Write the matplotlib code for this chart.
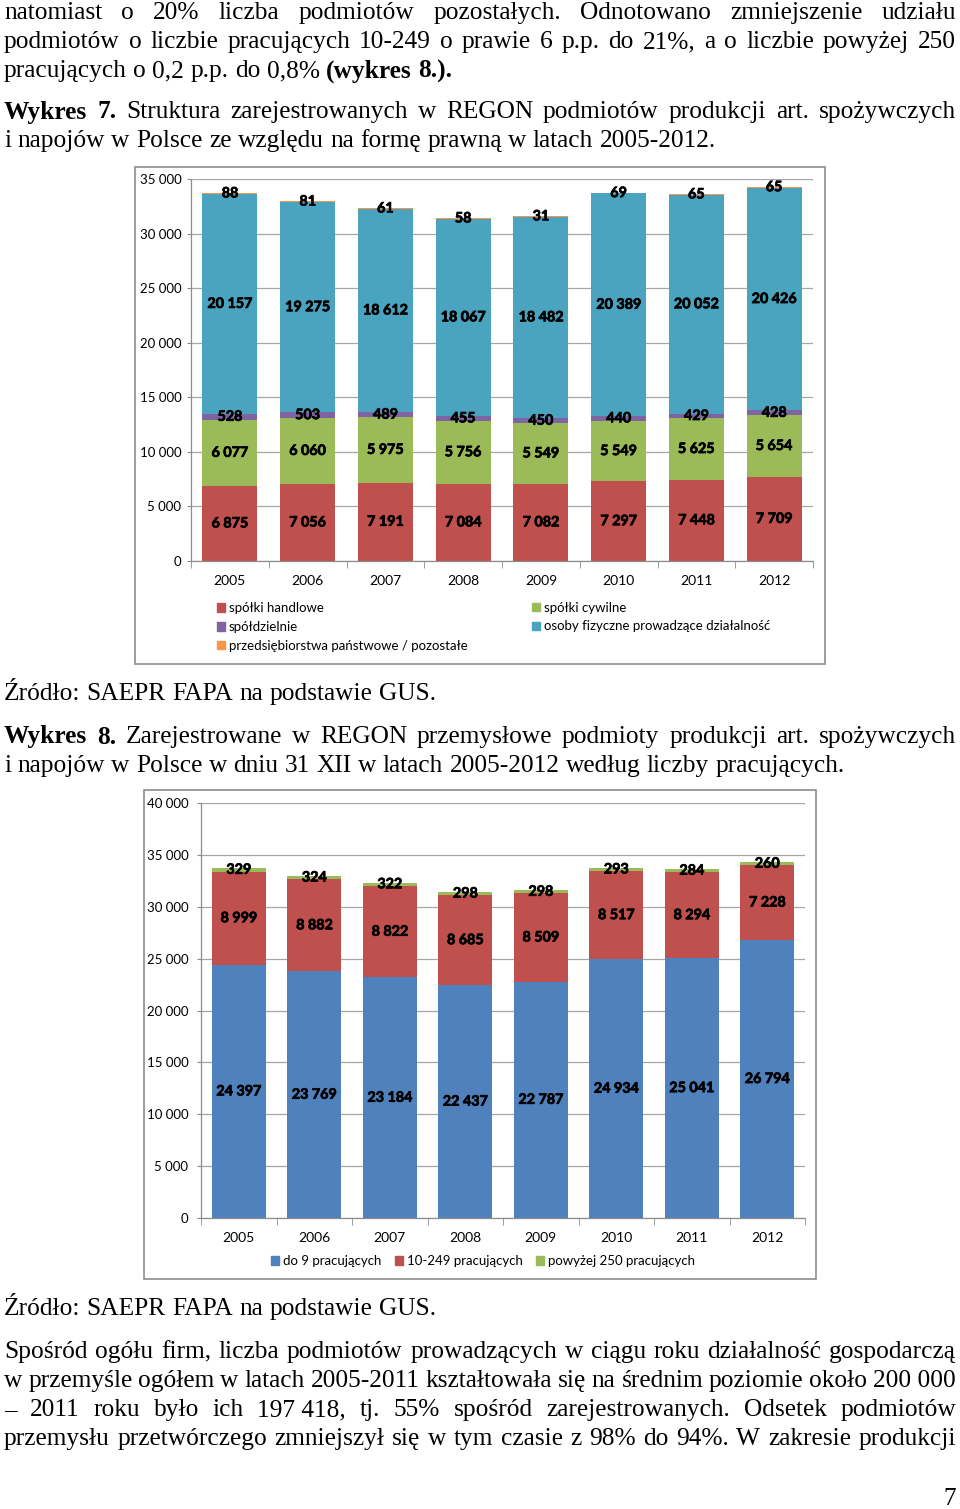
import numpy as np
import matplotlib
matplotlib.use("Agg")
import matplotlib.pyplot as plt
import matplotlib.patheffects as pe
from matplotlib.patches import Rectangle, Patch

# ---------------- data ----------------
years = ["2005", "2006", "2007", "2008", "2009", "2010", "2011", "2012"]

# Wykres 7 - forma prawna
spolki_handlowe = [6875, 7056, 7191, 7084, 7082, 7297, 7448, 7709]
spolki_cywilne = [6077, 6060, 5975, 5756, 5549, 5549, 5625, 5654]
spoldzielnie = [528, 503, 489, 455, 450, 440, 429, 428]
osoby_fizyczne = [20157, 19275, 18612, 18067, 18482, 20389, 20052, 20426]
przeds_panstwowe = [88, 81, 61, 58, 31, 69, 65, 65]

# Wykres 8 - liczba pracujacych
do_9 = [24397, 23769, 23184, 22437, 22787, 24934, 25041, 26794]
od_10_249 = [8999, 8882, 8822, 8685, 8509, 8517, 8294, 7228]
powyzej_250 = [329, 324, 322, 298, 298, 293, 284, 260]

# ---------------- setup ----------------
W, H = 960, 1509
fig = plt.figure(figsize=(W / 100, H / 100), dpi=100)
renderer = fig.canvas.get_renderer()

CH = ["Lato", "DejaVu Sans"]
SERIF = ["Liberation Serif", "DejaVu Serif"]
FS = 18.3


def fx(px):
    return px / W


def fy(py):
    return 1 - py / H


def fmt(v):
    return f"{v:,}".replace(",", " ")


# ---------------- page text ----------------
def text_line(y, s, justify, x0=4, x1=956, size=FS):
    words = s.split(" ")
    texts = []
    for w in words:
        bold = w.startswith("§")
        w = w.replace("§", "")
        t = fig.text(0, fy(y), w, fontsize=size, family=SERIF,
                     weight="bold" if bold else "normal",
                     va="center", ha="left")
        texts.append(t)
    widths = [t.get_window_extent(renderer).width for t in texts]
    probe1 = fig.text(0, 0, "x x", fontsize=size, family=SERIF)
    probe2 = fig.text(0, 0, "xx", fontsize=size, family=SERIF)
    sp = probe1.get_window_extent(renderer).width - probe2.get_window_extent(renderer).width
    probe1.remove()
    probe2.remove()
    if justify and len(texts) > 1:
        gap = max((x1 - x0 - sum(widths)) / (len(texts) - 1), sp * 0.5)
    else:
        gap = sp
    x = x0
    for t, w in zip(texts, widths):
        t.set_x(fx(x))
        x += w + gap


page_lines = [
    (13, "natomiast o 20% liczba podmiotów pozostałych. Odnotowano zmniejszenie udziału", True),
    (42, "podmiotów o liczbie pracujących 10-249 o prawie 6 p.p. do 21%, a o liczbie powyżej 250", True),
    (71, "pracujących o 0,2 p.p. do 0,8% §(wykres §8.).", False),
    (112, "§Wykres §7. Struktura zarejestrowanych w REGON podmiotów produkcji art. spożywczych", True),
    (141, "i napojów w Polsce ze względu na formę prawną w latach 2005-2012.", False),
    (694, "Źródło: SAEPR FAPA na podstawie GUS.", False),
    (737, "§Wykres §8. Zarejestrowane w REGON przemysłowe podmioty produkcji art. spożywczych", True),
    (766, "i napojów w Polsce w dniu 31 XII w latach 2005-2012 według liczby pracujących.", False),
    (1309, "Źródło: SAEPR FAPA na podstawie GUS.", False),
    (1352, "Spośród ogółu firm, liczba podmiotów prowadzących w ciągu roku działalność gospodarczą", True),
    (1381, "w przemyśle ogółem w latach 2005-2011 kształtowała się na średnim poziomie około 200\u00a0000", True),
    (1410, "– 2011 roku było ich 197\u00a0418, tj. 55% spośród zarejestrowanych. Odsetek podmiotów", True),
    (1439, "przemysłu przetwórczego zmniejszył się w tym czasie z 98% do 94%. W zakresie produkcji", True),
]
for y, s, j in page_lines:
    text_line(y, s, j)

fig.text(fx(956), fy(1499), "7", fontsize=FS, family=SERIF, ha="right", va="center")

# ---------------- chart frames ----------------
for (l, t, r, b) in [(135, 167, 825, 664), (144, 790, 816, 1279)]:
    fig.patches.append(Rectangle((fx(l), fy(b)), fx(r) - fx(l), (b - t) / H,
                                 transform=fig.transFigure, fill=False,
                                 edgecolor="#8c8c8c", lw=1.2, zorder=0))

GRID = "#a6a6a6"
AX = "#8c8c8c"
BOLD = [pe.withStroke(linewidth=0.55, foreground="black")]


def style_axes(ax, ymax, pad):
    ax.set_xlim(-0.5, 7.5)
    ax.set_ylim(0, ymax)
    ticks = list(range(0, ymax + 1, 5000))
    ax.set_yticks(ticks)
    ax.set_yticklabels([fmt(v) for v in ticks], family=CH, fontsize=9.5)
    ax.yaxis.grid(True, color=GRID, lw=0.9)
    ax.set_axisbelow(True)
    for s in ["top", "right"]:
        ax.spines[s].set_visible(False)
    for s in ["left", "bottom"]:
        ax.spines[s].set_color(AX)
        ax.spines[s].set_linewidth(0.9)
    ax.tick_params(axis="y", length=3, color=AX, pad=pad)
    ax.set_xticks(range(len(years)))
    ax.set_xticklabels(years, family=CH, fontsize=10)
    ax.tick_params(axis="x", which="major", length=0, pad=10)
    ax.set_xticks(np.arange(-0.5, len(years), 1), minor=True)
    ax.tick_params(axis="x", which="minor", length=5, color=AX)


def stack(ax, series, colors, width):
    x = np.arange(len(years))
    bottom = np.zeros(len(years))
    for vals, c in zip(series, colors):
        vals = np.array(vals, dtype=float)
        ax.bar(x, vals, width, bottom=bottom, color=c, zorder=2)
        for xi, b, v in zip(x, bottom, vals):
            ax.text(xi, b + v / 2, fmt(int(v)), ha="center", va="center",
                    family=CH, fontsize=10.3, weight="bold", color="black",
                    zorder=3, path_effects=BOLD)
        bottom += vals


# ---------------- Wykres 7 ----------------
C_RED, C_GREEN, C_PURPLE, C_TEAL, C_ORANGE, C_BLUE = (
    "#C0504D", "#9BBB59", "#8064A2", "#4AA3BF", "#F79646", "#4F81BD")

ax1 = fig.add_axes([fx(191), fy(561), fx(813) - fx(191), (561 - 179) / H])
style_axes(ax1, 35000, 4)
stack(ax1, [spolki_handlowe, spolki_cywilne, spoldzielnie, osoby_fizyczne, przeds_panstwowe],
      [C_RED, C_GREEN, C_PURPLE, C_TEAL, C_ORANGE], 0.71)

lp = dict(frameon=False, borderaxespad=0, borderpad=0, handlelength=0.6,
          handleheight=0.6, handletextpad=0.3, labelspacing=0.52,
          prop=dict(family=CH, size=9.5))
fig.legend([Patch(color=C_RED), Patch(color=C_PURPLE), Patch(color=C_ORANGE)],
           ["spółki handlowe", "spółdzielnie", "przedsiębiorstwa państwowe / pozostałe"],
           loc="center left", bbox_to_anchor=(fx(217), fy(627)), **lp)
fig.legend([Patch(color=C_GREEN), Patch(color=C_TEAL)],
           ["spółki cywilne", "osoby fizyczne prowadzące działalność"],
           loc="center left", bbox_to_anchor=(fx(532), fy(617)), **lp)

# ---------------- Wykres 8 ----------------
ax2 = fig.add_axes([fx(201), fy(1218), fx(805) - fx(201), (1218 - 803) / H])
style_axes(ax2, 40000, 6)
stack(ax2, [do_9, od_10_249, powyzej_250], [C_BLUE, C_RED, C_GREEN], 0.715)

fig.legend([Patch(color=C_BLUE), Patch(color=C_RED), Patch(color=C_GREEN)],
           ["do 9 pracujących", "10-249 pracujących", "powyżej 250 pracujących"],
           loc="center", bbox_to_anchor=(fx(483), fy(1261)), ncol=3,
           columnspacing=1.0, **lp)

fig.savefig("out.png", dpi=100)
